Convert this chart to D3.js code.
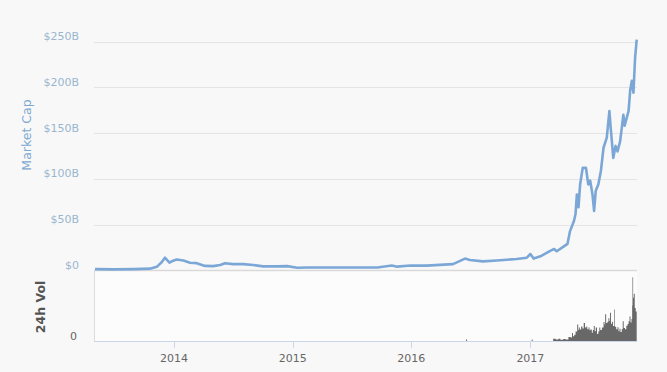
<!DOCTYPE html>
<html><head><meta charset="utf-8">
<script src="https://cdn.jsdelivr.net/npm/d3@7"></script>
<style>
body{margin:0;background:#f8f8f8;}
svg{display:block;font-family:"DejaVu Sans",Verdana,sans-serif;}
</style>
</head><body><svg id="c" width="667" height="372"></svg>
<script>
// ---- data (total market cap in $B, 24h volume in $B) ----
const capDates = ["2013-05-03","2013-07-01","2013-09-01","2013-10-19","2013-11-09","2013-11-24","2013-12-04","2013-12-18","2013-12-25","2014-01-09","2014-01-30","2014-02-19","2014-03-12","2014-04-06","2014-05-01","2014-05-23","2014-06-07","2014-07-02","2014-08-01","2014-09-01","2014-10-02","2014-11-14","2014-12-15","2015-01-15","2015-02-14","2015-03-27","2015-06-05","2015-09-18","2015-11-02","2015-11-18","2015-12-29","2016-02-17","2016-05-08","2016-06-14","2016-06-29","2016-08-08","2016-09-20","2016-11-20","2016-12-21","2017-01-01","2017-01-11","2017-02-01","2017-03-03","2017-03-15","2017-03-23","2017-04-13","2017-04-25","2017-05-03","2017-05-15","2017-05-20","2017-05-24","2017-05-29","2017-06-03","2017-06-11","2017-06-21","2017-06-28","2017-07-04","2017-07-11","2017-07-16","2017-07-21","2017-07-29","2017-08-06","2017-08-14","2017-08-24","2017-09-01","2017-09-05","2017-09-13","2017-09-20","2017-09-26","2017-10-04","2017-10-14","2017-10-18","2017-10-23","2017-10-30","2017-11-04","2017-11-09","2017-11-14","2017-11-19","2017-11-24"];
const capValues = [1.5,1.2,1.5,2.0,4,9,14,8.5,10,12,11,8.5,8,5,4.8,6,8,7,7,6,4.5,4.5,4.8,3,3.3,3.3,3.3,3.3,5.5,4.2,5.5,5.3,7,13,11.5,10,11,12.5,14,18,13,15.5,21.5,23.5,21,26,29,43,54,62,83,69,94,112,112,94,98,83,65,87,94,109,134,145,174,156,123,136,130,141,170,158,165,174,197,207,194,232,252];

const volDates = ["2013-05-03","2016-06-14","2016-06-17","2016-06-20","2017-01-02","2017-01-05","2017-01-08","2017-03-10","2017-03-12","2017-03-20","2017-03-28","2017-04-03","2017-04-12","2017-04-19","2017-04-28","2017-05-05","2017-05-09","2017-05-12","2017-05-16","2017-05-20","2017-05-25","2017-05-28","2017-05-30","2017-06-02","2017-06-06","2017-06-10","2017-06-14","2017-06-18","2017-06-22","2017-06-25","2017-06-29","2017-07-02","2017-07-05","2017-07-09","2017-07-12","2017-07-15","2017-07-18","2017-07-21","2017-07-25","2017-07-29","2017-08-01","2017-08-04","2017-08-09","2017-08-14","2017-08-17","2017-08-19","2017-08-22","2017-08-26","2017-08-29","2017-09-01","2017-09-03","2017-09-06","2017-09-09","2017-09-12","2017-09-16","2017-09-18","2017-09-22","2017-09-26","2017-09-29","2017-10-02","2017-10-05","2017-10-09","2017-10-12","2017-10-15","2017-10-19","2017-10-23","2017-10-27","2017-10-30","2017-11-02","2017-11-05","2017-11-08","2017-11-10","2017-11-11","2017-11-13","2017-11-15","2017-11-18","2017-11-21","2017-11-24"];
const volValues = [0,0,0.4,0,0,0.4,0,0,0.6,0.4,0.6,0.3,0.5,0.4,1.0,0.9,2.0,1.2,1.6,2.4,4.2,2.8,3.4,2.9,3.7,3.2,4.6,3.4,3.7,3.0,3.4,2.7,2.9,2.1,2.8,3.8,2.5,3.4,1.8,2.4,3.4,2.8,3.4,4.8,4.2,6.8,4.6,4.9,5.8,5.1,7.2,4.4,4.9,3.8,8.0,3.6,3.0,3.5,2.5,3.1,2.3,3.0,5.0,3.3,3.0,3.9,4.3,5.0,6.2,4.7,5.6,9.0,16.2,11.0,12.0,8.4,7.5,6.8];

const capTicks = [0,50,100,150,200,250];
const capTickLabels = ["$0","$50B","$100B","$150B","$200B","$250B"];
const yearTicks = ["2014","2015","2016","2017"];

// ---- build ----
const parse = d3.utcParse("%Y-%m-%d");
const cap = capDates.map((d,i)=>({date:parse(d), v:capValues[i]}));
const vol = volDates.map((d,i)=>({date:parse(d), v:volValues[i]}));

const svg = d3.select("#c");
const L = 94, R = 637;
const x = d3.scaleUtc().domain([parse("2013-05-03"), parse("2017-11-24")]).range([95, 636.7]);
const y = d3.scaleLinear().domain([0,250]).range([270.5, 41.5]);
const yv = d3.scaleLinear().domain([0,16.5]).range([341, 276]);

// gridlines
svg.append("g").selectAll("line").data(capTicks.slice(1)).join("line")
  .attr("x1",L).attr("x2",R)
  .attr("y1",d=>Math.round(y(d))+0.5).attr("y2",d=>Math.round(y(d))+0.5)
  .attr("stroke","#e4e4e4").attr("stroke-width",1);

// y labels
svg.append("g").selectAll("text").data(capTicks).join("text")
  .attr("x",79).attr("y",d=>y(d)-1.5)
  .attr("text-anchor","end")
  .attr("fill","#9ab6cf").attr("font-size","11px")
  .text((d,i)=>capTickLabels[i]);

svg.append("text")
  .attr("transform","translate(31,135) rotate(-90)")
  .attr("text-anchor","middle")
  .attr("fill","#7ea8d0").attr("font-size","12.5px")
  .text("Market Cap");

// volume panel
svg.append("rect").attr("x",L+0.5).attr("y",270.5).attr("width",R-L-0.5).attr("height",70.5)
  .attr("fill","#fcfcfc");
svg.append("line").attr("x1",L+0.5).attr("x2",L+0.5).attr("y1",270).attr("y2",341)
  .attr("stroke","#dcdcdc");
svg.append("line").attr("x1",L).attr("x2",R).attr("y1",270.5).attr("y2",270.5)
  .attr("stroke","#d9d9d9").attr("stroke-width",1.5);

// volume area
svg.append("path").datum(vol)
  .attr("d", d3.area().x(d=>x(d.date)).y0(yv(0)).y1(d=>yv(d.v)).curve(d3.curveStepAfter))
  .attr("fill","#686868");

// bottom axis
const yearScale = d => x(parse(d+"-01-01"));
svg.append("line").attr("x1",L).attr("x2",R).attr("y1",341.5).attr("y2",341.5)
  .attr("stroke","#ccd6eb");
svg.append("g").selectAll("line").data(yearTicks).join("line")
  .attr("x1",d=>Math.round(yearScale(d))+0.5).attr("x2",d=>Math.round(yearScale(d))+0.5)
  .attr("y1",341).attr("y2",348).attr("stroke","#ccd6eb");
svg.append("g").selectAll("text").data(yearTicks).join("text")
  .attr("x",d=>yearScale(d)).attr("y",362)
  .attr("text-anchor","middle").attr("fill","#666").attr("font-size","11px")
  .text(d=>d);

svg.append("text").attr("x",77).attr("y",339.5).attr("text-anchor","end")
  .attr("fill","#666").attr("font-size","11px").text("0");

svg.append("text")
  .attr("transform","translate(45,307) rotate(-90)")
  .attr("text-anchor","middle")
  .attr("fill","#555").attr("font-size","12.5px").attr("font-weight","bold")
  .text("24h Vol");

// market cap line
svg.append("path").datum(cap)
  .attr("d", d3.line().x(d=>x(d.date)).y(d=>y(d.v)))
  .attr("fill","none").attr("stroke","#7ba7d7").attr("stroke-width",2.6)
  .attr("stroke-linejoin","round");
</script>
</body></html>
